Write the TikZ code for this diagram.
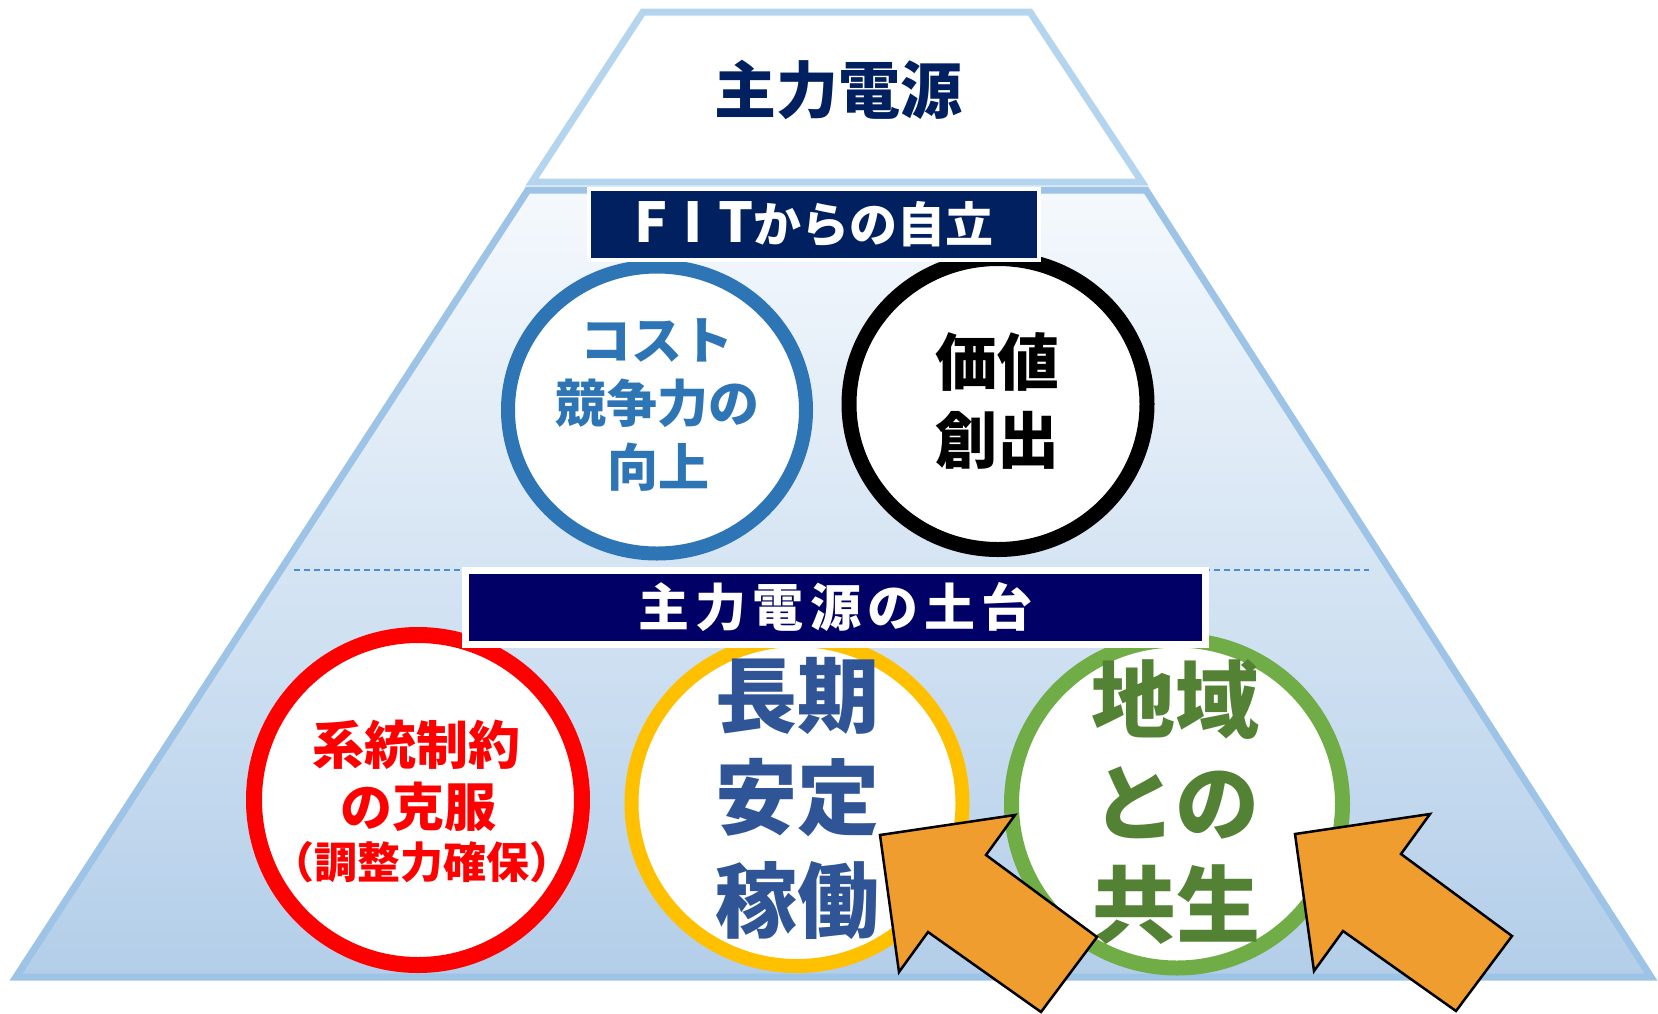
\documentclass[tikz,border=0pt]{standalone}
\usepackage{fontspec}
\newfontfamily\jp{Noto Sans CJK JP}
\usetikzlibrary{shapes.geometric}
\definecolor{titleNavy}{HTML}{002060}
\definecolor{boxNavy}{HTML}{000066}
\definecolor{cBlue}{HTML}{2E75B6}
\definecolor{cYellow}{HTML}{FFC000}
\definecolor{cGreen}{HTML}{70AD47}
\definecolor{tGreen}{HTML}{548235}
\definecolor{tBlue}{HTML}{2F5597}
\definecolor{cOrange}{HTML}{F09D30}
\definecolor{topLine}{HTML}{B5D5EE}
\definecolor{lowLine}{HTML}{9DC3E6}
\definecolor{trapTop}{HTML}{F5F9FD}
\definecolor{trapBot}{HTML}{B3CEE9}
\definecolor{dashBlue}{HTML}{4A8FCF}
\begin{document}
\begin{tikzpicture}[x=1pt,y=-1pt,
  jt/.style={font=\jp\bfseries\fontsize{#1}{#1}\selectfont, inner sep=0pt,
             text height={0.88*#1pt}, text depth={0.12*#1pt}},
  ring/.style={ellipse, fill=white, line width=14pt, inner sep=0pt},
  labelbox/.style={rectangle, draw=white, text=white, inner sep=0pt},
  blockarrow/.style={fill=cOrange, draw=black, line width=2.5pt, line join=miter},
]
\useasboundingbox (0,0) rectangle (1658,1013);
\clip (0,0) rectangle (1658,1013);

% top trapezoid
\draw[draw=topLine, line width=7pt, fill=white, line join=miter]
  (643,12) -- (1030,12) -- (1142,182) -- (532,182) -- cycle;
% lower trapezoid
\shade[top color=trapTop, bottom color=trapBot]
  (528,190) -- (1146,190) -- (1651,977) -- (16,977) -- cycle;
\draw[draw=lowLine, line width=7pt, line join=miter]
  (528,190) -- (1146,190) -- (1651,977) -- (16,977) -- cycle;

% dashed divider
\coordinate (dl) at (294,570);
\coordinate (dr) at (1369,570);
\draw[dashBlue, line width=1.5pt, dash pattern=on 6pt off 4pt] (dl) -- (dr);

\node[jt=62, text=titleNavy] (title) at (838,90) {主力電源};

% upper circles
\node[ring, draw=cBlue, minimum width=298pt, minimum height=287pt] (cost) at (657,410) {};
\node[ring, draw=black, line width=15pt, minimum width=298pt, minimum height=291pt] (value) at (998,404) {};
\node[jt=51, text=cBlue] (c1) at (657,340) {コスト};
\node[jt=51, text=cBlue] (c2) at (657,403) {競争力の};
\node[jt=51, text=cBlue] (c3) at (658,467) {向上};
\node[jt=62, text=black] (v1) at (997,362) {価値};
\node[jt=62, text=black] (v2) at (997,440) {創出};

% lower circles
\node[ring, draw=red, line width=16pt, minimum width=328pt, minimum height=330pt] (grid) at (418,800) {};
\node[ring, draw=cYellow, minimum width=331pt, minimum height=326pt] (longterm) at (797,803) {};
\node[ring, draw=cGreen, line width=15pt, minimum width=331pt, minimum height=328pt] (region) at (1177,804) {};
\node[jt=52, text=red] (r1) at (416,745) {系統制約};
\node[jt=52, text=red] (r2) at (418,807) {の克服};
\node[jt=43, text=red] (r3) at (422,862) {（調整力確保）};
\node[jt=82, text=tBlue] (y1) at (797,695) {長期};
\node[jt=82, text=tBlue] (y2) at (797,797) {安定};
\node[jt=82, text=tBlue] (y3) at (797,900) {稼働};
\node[jt=84, text=tGreen] (g1) at (1175,700) {地域};
\node[jt=84, text=tGreen] (g2) at (1176,803) {との};
\node[jt=84, text=tGreen] (g3) at (1176,905) {共生};

% label boxes
\node[labelbox, jt=48, fill=titleNavy, line width=4pt, minimum width=450pt, minimum height=71pt] (fit) at (814,224.5)
  {{\fontsize{55}{55}\selectfont\addfontfeature{LetterSpace=28}FIT}からの自立};
\node[labelbox, jt=51, fill=boxNavy, line width=7pt, minimum width=740pt, minimum height=74pt] (base) at (835.5,607.5) {\addfontfeature{LetterSpace=12}主力電源の土台};

% block arrows
\draw[blockarrow] (880,835) -- (1015,815) -- (986,855) -- (1097,937) -- (1041,1012) -- (928,932) -- (899,972) -- cycle;
\draw[blockarrow, shift={(415,-1)}] (880,835) -- (1015,815) -- (986,855) -- (1097,937) -- (1041,1012) -- (928,932) -- (899,972) -- cycle;
\end{tikzpicture}
\end{document}
